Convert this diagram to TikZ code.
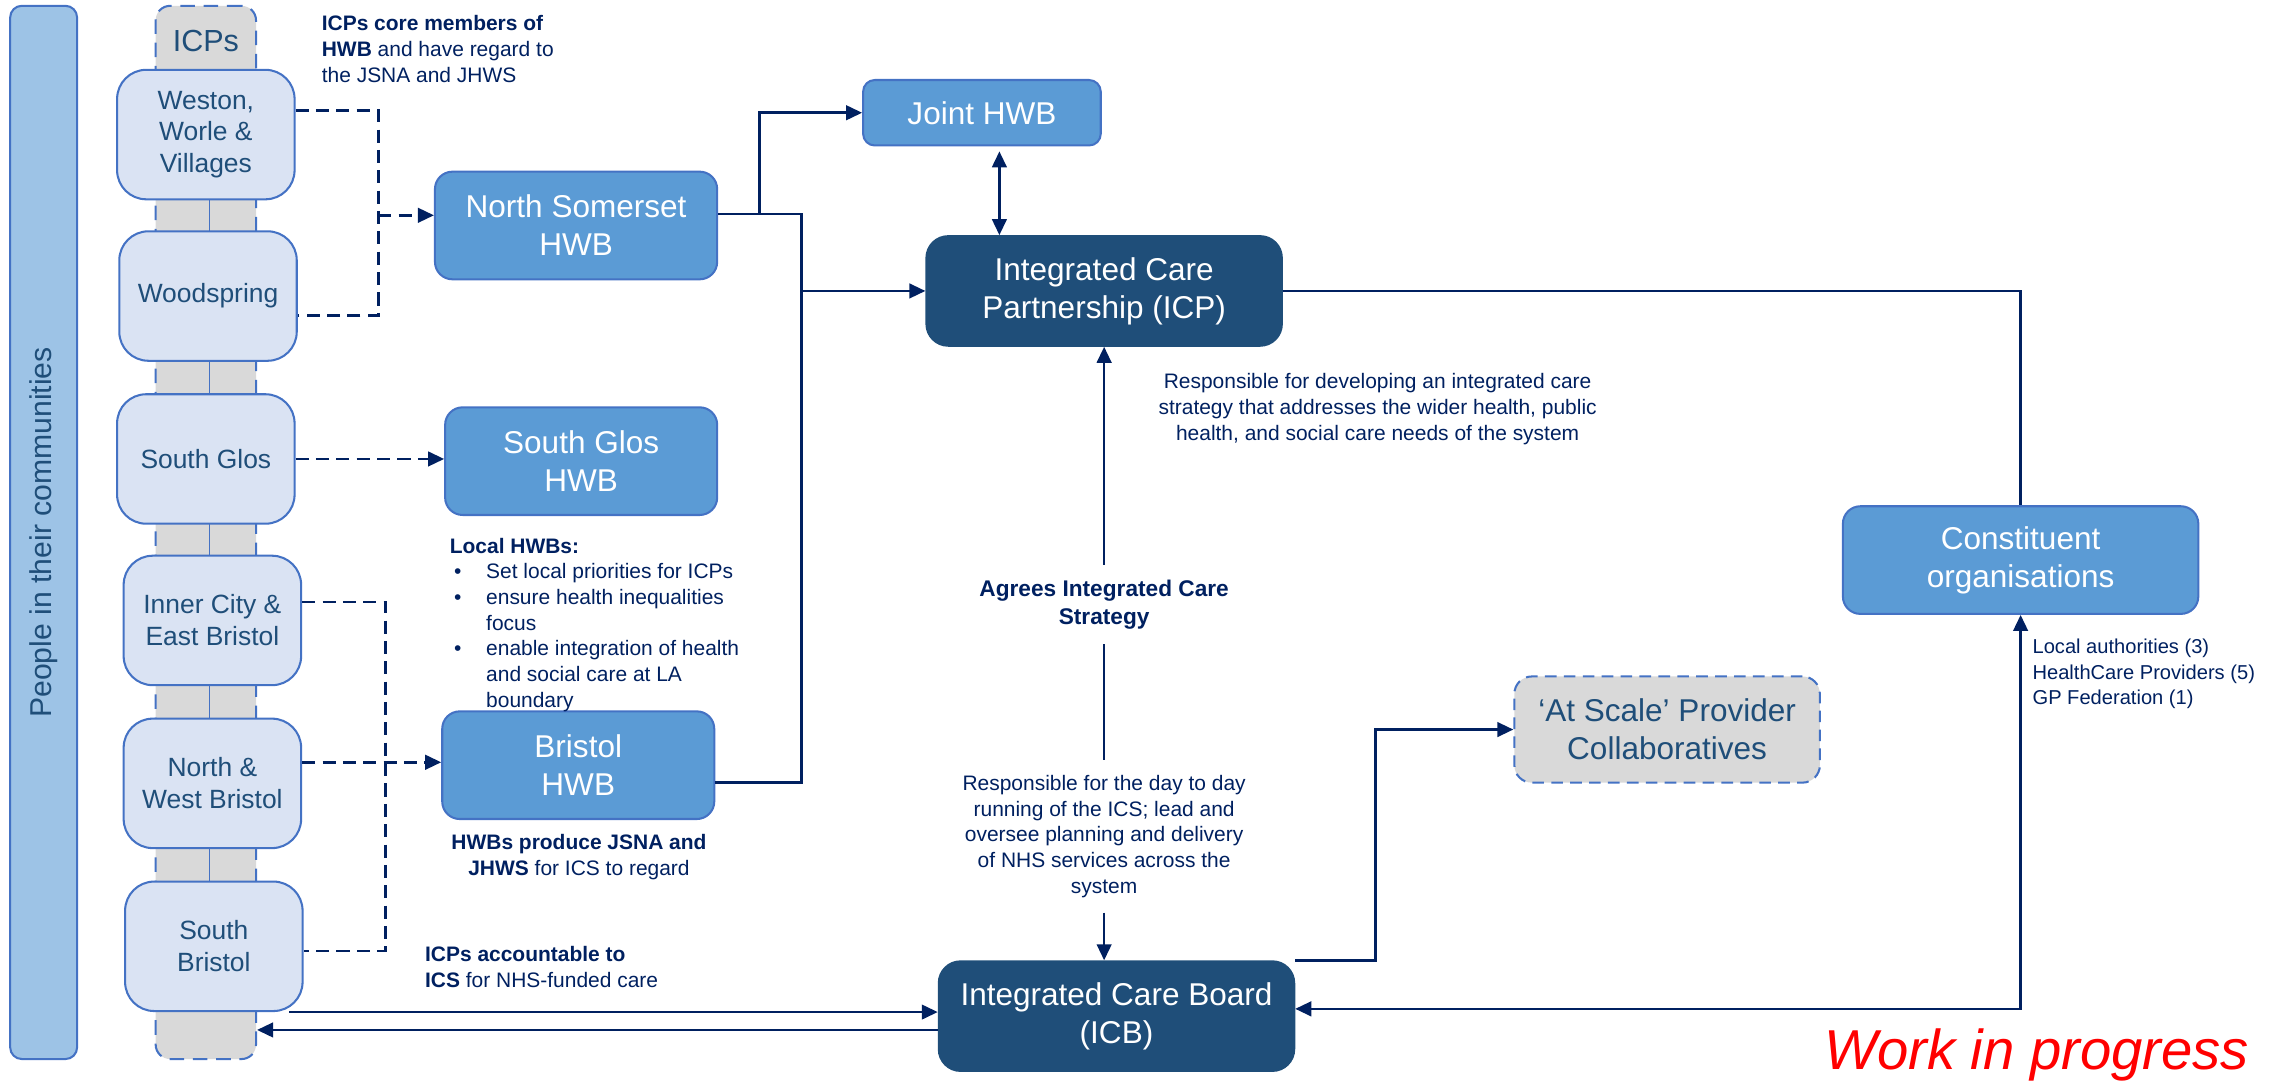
\documentclass[tikz,border=0pt]{standalone}
\usepackage{fontspec}
\setmainfont{Liberation Sans}
\usepackage{tikz}
\usetikzlibrary{arrows.meta}

\definecolor{barblue}{HTML}{9DC3E6}
\definecolor{edgeblue}{HTML}{4472C4}
\definecolor{paleblue}{HTML}{DAE3F3}
\definecolor{midblue}{HTML}{5B9BD5}
\definecolor{deepblue}{HTML}{1F4E79}
\definecolor{softgray}{HTML}{D9D9D9}
\definecolor{labelblue}{HTML}{1F4E79}
\definecolor{linknavy}{HTML}{002060}

\newcommand{\bulletpt}{\hspace*{0.9mm}\makebox[6.6mm][l]{\textbullet}}

\begin{document}
\begin{tikzpicture}[x=0.3mm,y=-0.3mm,
	>={Triangle[length=3.3mm,width=3mm]},
	sidebar/.style={shape=rectangle,rounded corners=2.4mm,draw=edgeblue,fill=barblue,line width=1.2pt,minimum width=217.2mm,minimum height=13.8mm,text=labelblue,font=\fontsize{17.7}{20}\selectfont},
	icpcolumn/.style={shape=rectangle,rounded corners=3mm,draw=edgeblue,fill=softgray,line width=1.2pt,dash pattern=on 3mm off 1.8mm,minimum width=20.7mm,minimum height=217.2mm},
	icp/.style={shape=rectangle,rounded corners=6mm,draw=edgeblue,fill=paleblue,line width=1.2pt,minimum width=36.6mm,minimum height=26.7mm,align=center,text=labelblue,font=\fontsize{15.5}{18.7}\selectfont},
	hwb/.style={shape=rectangle,rounded corners=3.6mm,draw=edgeblue,fill=midblue,line width=1.2pt,minimum width=56.1mm,minimum height=22.2mm,align=center,text=white,font=\fontsize{18.5}{22.2}\selectfont},
	board/.style={shape=rectangle,rounded corners=4.5mm,draw=deepblue,fill=deepblue,line width=1.2pt,minimum width=73.3mm,minimum height=22.6mm,align=center,text=white,font=\fontsize{18.5}{22.2}\selectfont},
	scalebox/.style={shape=rectangle,rounded corners=3.6mm,draw=edgeblue,fill=softgray,line width=1.2pt,dash pattern=on 2.4mm off 1.5mm,minimum width=63mm,minimum height=21.9mm,align=center,text=labelblue,font=\fontsize{18.5}{22.2}\selectfont},
	note/.style={inner sep=0pt,text=linknavy,font=\fontsize{12.3}{15.1}\selectfont},
	link/.style={draw=linknavy,line width=1.5pt},
	dashlink/.style={draw=linknavy,line width=1.5pt,dash pattern=on 2.7mm off 1.5mm}]

	\useasboundingbox (0,0) rectangle (1568,743);

	\node[sidebar,rotate=90] (people) at (30,366) {People in their communities};
	\node[icpcolumn] (icpcol) at (141.5,366) {};
	\node[text=labelblue,font=\fontsize{17.9}{20}\selectfont] (icplabel) at (141.5,28) {ICPs};
	\draw[edgeblue,line width=0.8pt] (144,137) -- (144,606);

	\node[icp] (weston)       at (141.5,92.5)  {Weston,\\Worle \&\\Villages};
	\node[icp] (woodspring)   at (143,203.5)   {Woodspring};
	\node[icp] (southglos)    at (141.5,315.5) {South Glos};
	\node[icp] (innercity)    at (146,426.5)   {Inner City \&\\East Bristol};
	\node[icp] (northwest)    at (146,538.5)   {North \&\\West Bristol};
	\node[icp] (southbristol) at (147,650.5)   {South\\Bristol};

	\node[hwb,minimum width=58.2mm] (nshwb) at (396,155) {North Somerset\\HWB};
	\node[hwb] (sghwb) at (399.5,317) {South Glos\\HWB};
	\node[hwb] (brhwb) at (397.5,526) {Bristol\\HWB};
	\node[hwb,rounded corners=2.4mm,minimum width=49mm,minimum height=13.5mm] (joint) at (675,77.5) {Joint HWB};
	\node[board] (icp) at (759,200) {Integrated Care\\Partnership (ICP)};
	\node[board] (icb) at (767.5,698.5) {Integrated Care Board\\(ICB)};
	\node[hwb,minimum width=73.3mm] (constituent) at (1389,385) {Constituent\\organisations};
	\node[scalebox] (atscale) at (1146,501.5) {‘At Scale’ Provider\\Collaboratives};

	\node[note,anchor=north west,align=left] (corenote) at (221,10.5) {\textbf{ICPs core members of}\\\textbf{HWB} and have regard to\\the JSNA and JHWS};
	\node[note,anchor=north west,align=left] (localnote) at (309,369.5) {\textbf{Local HWBs:}\\\bulletpt Set local priorities for ICPs\\\bulletpt ensure health inequalities\\\hspace*{7.5mm}focus\\\bulletpt enable integration of health\\\hspace*{7.5mm}and social care at LA\\\hspace*{7.5mm}boundary};
	\node[note,anchor=north,align=center] (producenote) at (398,573.5) {\textbf{HWBs produce JSNA and}\\\textbf{JHWS} for ICS to regard};
	\node[note,anchor=north west,align=left] (accountnote) at (292,650.5) {\textbf{ICPs accountable to}\\\textbf{ICS} for NHS-funded care};
	\node[note,anchor=north,align=center] (strategynote) at (947,256.5) {Responsible for developing an integrated care\\strategy that addresses the wider health, public\\health, and social care needs of the system};
	\node[note,inner sep=3mm,align=center,font=\fontsize{13.3}{16.7}\selectfont\bfseries] (agrees) at (759,415.5) {Agrees Integrated Care\\Strategy};
	\node[note,inner sep=3mm,align=center] (daytoday) at (759,575) {Responsible for the day to day\\running of the ICS; lead and\\oversee planning and delivery\\of NHS services across the\\system};
	\node[note,anchor=north west,align=left,font=\fontsize{11.8}{15}\selectfont] (members) at (1397,439) {Local authorities (3)\\HealthCare Providers (5)\\GP Federation (1)};
	\node[text=red,anchor=base,font=\fontsize{33}{36}\selectfont\itshape] (wip) at (1400,735) {Work in progress};

	\coordinate (nsjoin) at (260,148);
	\coordinate (brjoin) at (265,524);
	\draw[dashlink] ([yshift=5mm]weston.east) -| (nsjoin) |- ([yshift=-4mm]woodspring.east);
	\draw[dashlink,->] (nsjoin) -- (nsjoin -| nshwb.west);
	\draw[dashlink,->] (southglos.east) -- (southglos.east -| sghwb.west);
	\draw[dashlink] ([yshift=3.8mm]innercity.east) -| (brjoin) |- ([yshift=-1mm]southbristol.east);
	\draw[dashlink,->] (northwest.east |- brjoin) -- (brjoin -| brhwb.west);

	\coordinate (hwbsplit) at (522,147);
	\coordinate (hwbbus) at (551,147);
	\draw[link] (nshwb.east |- hwbbus) -- (hwbbus) |- ([yshift=-3.6mm]brhwb.east);
	\draw[link,->] (hwbsplit) |- (joint.west);
	\draw[link,->] (hwbbus |- icp.west) -- (icp.west);

	\coordinate (jointfoot) at ([xshift=3.6mm]joint.south);
	\draw[link,<->,shorten <=1mm] (jointfoot) -- (jointfoot |- icp.north);
	\draw[link,->] (agrees.north) -- (icp.south);
	\draw[link] (agrees.south) -- (daytoday.north);
	\draw[link,->] (daytoday.south) -- (daytoday.south |- icb.north);

	\draw[link,->] (icb.north east) -- ++(55,0) |- (atscale.west);
	\draw[link] (icp.east) -| (constituent.north);
	\draw[link,<->] ([yshift=1.5mm]icb.east) -| (constituent.south);

	\coordinate (backline) at (0,708);
	\draw[link,->] ([xshift=-3mm]southbristol.south east) -- (southbristol.south east -| icb.west);
	\draw[link,->] (icb.west |- backline) -- (icpcol.east |- backline);

\end{tikzpicture}
\end{document}
